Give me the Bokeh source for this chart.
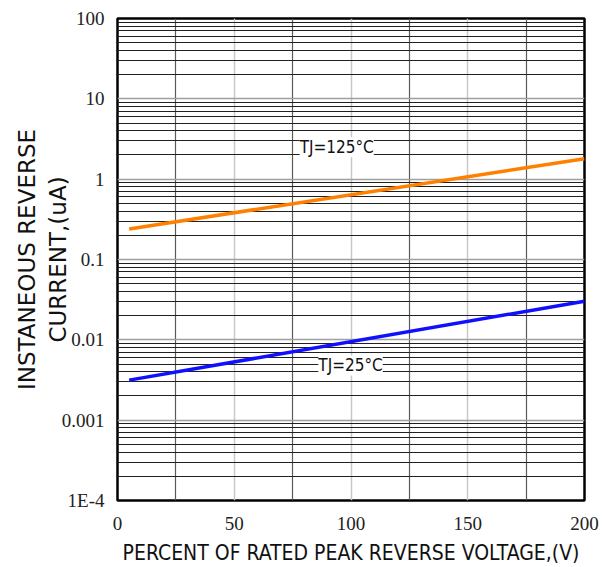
from bokeh.plotting import figure
from bokeh.models import FixedTicker, Label
from bokeh.embed import file_html
from bokeh.resources import INLINE

# data
x_vals = [5, 200]
tj125 = [0.24, 1.8]
tj25 = [0.00315, 0.0303]
x_ticks = [0, 50, 100, 150, 200]
y_ticks = [1e-4, 1e-3, 1e-2, 1e-1, 1, 10, 100]
y_tick_labels = ["1E-4", "0.001", "0.01", "0.1", "1", "10", "100"]
label125 = ("TJ=125°C", 78, 2.5)
label25 = ("TJ=25°C", 86, 0.0048)

minor_y = [m * d for d in y_ticks[:-1] for m in range(2, 10)]

NARROW = "'DejaVu Sans Condensed', 'Liberation Sans Narrow', 'Roboto Condensed', sans-serif"

p = figure(width=611, height=567, x_range=(0, 200), y_range=(1e-4, 100),
           y_axis_type="log", output_backend="svg", toolbar_location=None,
           min_border_left=117, min_border_right=27, min_border_top=18,
           min_border_bottom=65)
p.outline_line_color = "black"
p.outline_line_width = 2.5

p.xaxis.ticker = FixedTicker(ticks=x_ticks, minor_ticks=[25, 75, 125, 175])
p.yaxis.ticker = FixedTicker(ticks=y_ticks, minor_ticks=minor_y)
p.yaxis.major_label_overrides = {t: l for t, l in zip(y_ticks, y_tick_labels)}

for ax in (p.xaxis, p.yaxis):
    ax.axis_line_color = None
    ax.major_tick_line_color = None
    ax.minor_tick_line_color = None
    ax.major_label_text_font = "Liberation Serif"
    ax.major_label_text_font_size = "19px"
    ax.major_label_text_color = "#222222"
    ax.axis_label_text_font_style = "normal"
    ax.axis_label_text_color = "#111111"

p.xaxis.major_label_standoff = 10
p.yaxis.major_label_standoff = 7
p.xaxis.axis_label = "PERCENT OF RATED PEAK REVERSE VOLTAGE,(V)"
p.xaxis.axis_label_text_font = NARROW
p.xaxis.axis_label_text_font_size = "21px"
p.xaxis.axis_label_standoff = 8
p.yaxis.axis_label = "INSTANEOUS REVERSE\nCURRENT,(uA)"
p.yaxis.axis_label_text_font = "DejaVu Sans"
p.yaxis.axis_label_text_font_size = "23px"
p.yaxis.axis_label_standoff = -12

p.xgrid.grid_line_color = "#c8c8c8"
p.xgrid.grid_line_width = 1.5
p.xgrid.minor_grid_line_color = "#5a5a5a"
p.xgrid.minor_grid_line_width = 1.2
p.ygrid.grid_line_color = "#a0a0a0"
p.ygrid.grid_line_width = 1.5
p.ygrid.minor_grid_line_color = "#202020"
p.ygrid.minor_grid_line_width = 1.2

p.line(x_vals, tj125, line_color="#ff8000", line_width=3.5)
p.line(x_vals, tj25, line_color="#1010ff", line_width=3.5)

for txt, xx, yy in (label125, label25):
    p.add_layout(Label(x=xx, y=yy, text=txt, text_font=NARROW,
                       text_font_size="17px", text_baseline="middle",
                       text_color="#111111",
                       background_fill_color="white"))

open("out.html", "w").write(file_html(p, INLINE))
